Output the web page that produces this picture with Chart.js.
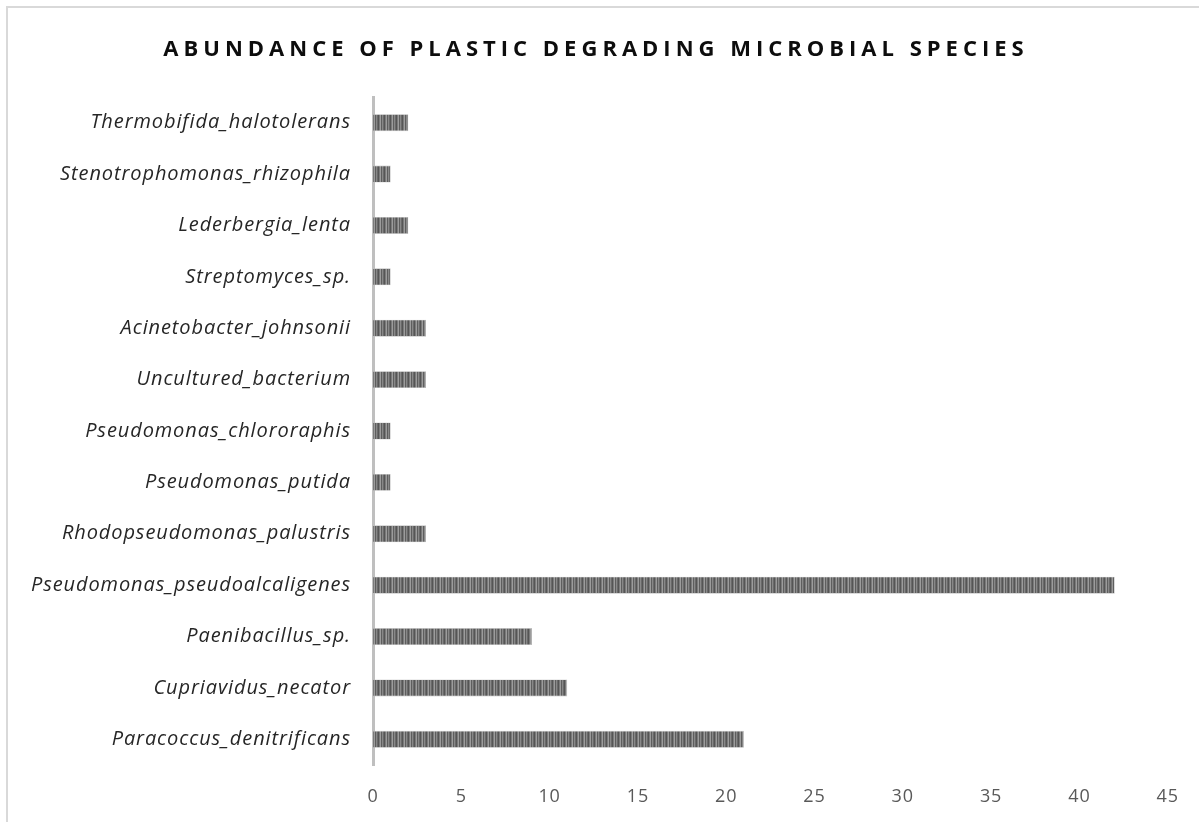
<!DOCTYPE html>
<html>
<head>
<meta charset="utf-8">
<script src="https://cdn.jsdelivr.net/npm/chart.js@4.4.1/dist/chart.umd.min.js"></script>
<style>
  html, body { margin: 0; padding: 0; background: #ffffff; overflow: hidden; }
  #frame { position: absolute; left: 6px; top: 6px; width: 1400px; height: 1000px;
           border: 2px solid #d9d9d9; box-sizing: border-box; }
  #wrap { position: absolute; left: 0; top: 0; width: 1199px; height: 822px; }
</style>
</head>
<body>
<div id="frame"></div>
<div id="wrap"><canvas id="chart" width="1199" height="822"></canvas></div>
<script>
// Species, listed top to bottom as they appear on the axis
const species = [
  'Thermobifida_halotolerans',
  'Stenotrophomonas_rhizophila',
  'Lederbergia_lenta',
  'Streptomyces_sp.',
  'Acinetobacter_johnsonii',
  'Uncultured_bacterium',
  'Pseudomonas_chlororaphis',
  'Pseudomonas_putida',
  'Rhodopseudomonas_palustris',
  'Pseudomonas_pseudoalcaligenes',
  'Paenibacillus_sp.',
  'Cupriavidus_necator',
  'Paracoccus_denitrificans'
];
// Abundance counts for each species
const abundance = [2, 1, 2, 1, 3, 3, 1, 1, 3, 42, 9, 11, 21];
// Value axis ticks
const xTicks = [0, 5, 10, 15, 20, 25, 30, 35, 40, 45];
const chartTitle = 'ABUNDANCE OF PLASTIC DEGRADING MICROBIAL SPECIES';

// Vertical-stripe fill for the bars
function stripePattern() {
  const c = document.createElement('canvas');
  const cols = ['#555555', '#7a7a7a', '#9c9c9c', '#5e5e5e', '#888888', '#6a6a6a'];
  c.width = cols.length; c.height = 4;
  const g = c.getContext('2d');
  cols.forEach((col, i) => { g.fillStyle = col; g.fillRect(i, 0, 1, 4); });
  return g.createPattern(c, 'repeat');
}

// Slightly open tracking for the axis labels, reset before the bars
const labelTracking = {
  id: 'labelTracking',
  beforeDraw(chart) {
    if ('letterSpacing' in chart.ctx) chart.ctx.letterSpacing = '0.9px';
  },
  beforeDatasetsDraw(chart) {
    if ('letterSpacing' in chart.ctx) chart.ctx.letterSpacing = '0px';
  }
};

// Letter-spaced bold title drawn on the canvas
const spacedTitle = {
  id: 'spacedTitle',
  afterDraw(chart) {
    const ctx = chart.ctx;
    ctx.save();
    ctx.font = 'bold 22px "Open Sans", sans-serif';
    ctx.fillStyle = '#0d0d0d';
    ctx.textAlign = 'center';
    ctx.textBaseline = 'alphabetic';
    if ('letterSpacing' in ctx) ctx.letterSpacing = '5px';
    ctx.fillText(chartTitle, 596, 56);
    ctx.restore();
  }
};

const ctx = document.getElementById('chart').getContext('2d');
new Chart(ctx, {
  type: 'bar',
  data: {
    labels: species,
    datasets: [{
      data: abundance,
      backgroundColor: stripePattern(),
      borderColor: '#bdbdbd',
      borderWidth: 0.6,
      barPercentage: 0.66,
      categoryPercentage: 0.5
    }]
  },
  options: {
    indexAxis: 'y',
    responsive: false,
    animation: false,
    layout: { padding: { top: 97, right: 28, left: 0, bottom: 0 } },
    plugins: {
      legend: { display: false },
      title: { display: false },
      tooltip: { enabled: false }
    },
    scales: {
      x: {
        min: 0, max: 45,
        afterBuildTicks(s) { s.ticks = xTicks.map(v => ({ value: v })); },
        afterFit(s) { s.height = 57; },
        grid: { display: false, drawTicks: false },
        border: { display: false },
        ticks: {
          color: '#595959',
          padding: 21,
          font: { family: '"Open Sans", sans-serif', size: 18 }
        }
      },
      y: {
        afterFit(s) { s.width = 373; },
        grid: { display: false, drawTicks: false },
        border: { display: true, color: '#bfbfbf', width: 3 },
        ticks: {
          color: '#262626',
          padding: 22,
          font: { family: '"Open Sans", sans-serif', size: 20, style: 'italic' }
        }
      }
    }
  },
  plugins: [labelTracking, spacedTitle]
});
</script>
</body>
</html>
